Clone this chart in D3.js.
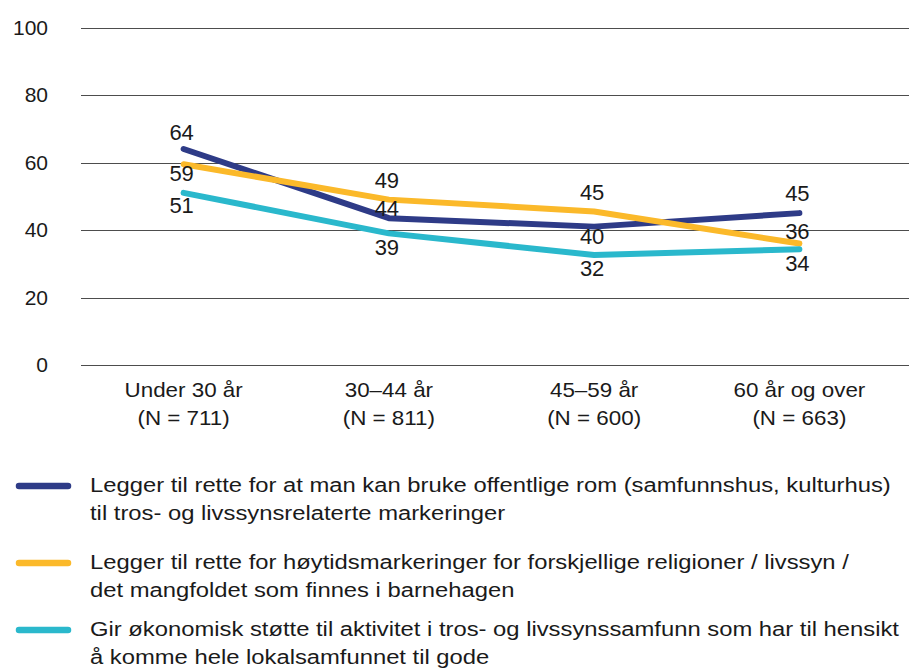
<!DOCTYPE html>
<html>
<head>
<meta charset="utf-8">
<script src="https://cdn.jsdelivr.net/npm/d3@7"></script>
<style>
	body { margin: 0; background: #fff; }
	text { font-family: "Liberation Sans", Arial, sans-serif; fill: #1a1a1a; }
</style>
</head>
<body>
<script>

// categories and sample sizes
var categories = ["Under 30 år", "30–44 år", "45–59 år", "60 år og over"];
var sampleSizes = ["(N = 711)", "(N = 811)", "(N = 600)", "(N = 663)"];

// series values (percent)
var rom = [64, 43.5, 41, 45];
var hoytid = [59.5, 49, 45.5, 36];
var okonomi = [51, 39, 32.6, 34.3];

// printed labels
var romLabels = [64, 44, 40, 45];
var hoytidLabels = [59, 49, 45, 36];
var okonomiLabels = [51, 39, 32, 34];

var yTicks = [0, 20, 40, 60, 80, 100];

var legendNames = [
	["Legger til rette for at man kan bruke offentlige rom (samfunnshus, kulturhus)", "til tros- og livssynsrelaterte markeringer"],
	["Legger til rette for høytidsmarkeringer for forskjellige religioner / livssyn /", "det mangfoldet som finnes i barnehagen"],
	["Gir økonomisk støtte til aktivitet i tros- og livssynssamfunn som har til hensikt", "å komme hele lokalsamfunnet til gode"]
];

var series = [
	{values: rom, labels: romLabels, col: "#2e3b87", dy: [-17, -10, 10, -20]},
	{values: hoytid, labels: hoytidLabels, col: "#fbb92a", dy: [9, -19, -19, -12]},
	{values: okonomi, labels: okonomiLabels, col: "#2ab8cc", dy: [12, 14, 13, 14]}
];

var width = 909, height = 670;

var svg = d3.select("body").append("svg")
	.attr("width", width)
	.attr("height", height);

var x = d3.scalePoint()
	.domain(categories)
	.range([81, 902])
	.padding(0.5);

var y = d3.scaleLinear()
	.domain([0, 100])
	.range([365, 27.5]);

// gridlines
svg.selectAll("line.grid")
	.data(yTicks)
	.enter().append("line")
		.attr("class", "grid")
		.attr("x1", 81)
		.attr("x2", 909)
		.attr("y1", function(d) { return Math.round(y(d)) + 0.5; })
		.attr("y2", function(d) { return Math.round(y(d)) + 0.5; })
		.attr("stroke", "#4d4d4d")
		.attr("stroke-width", 1);

// y tick labels
svg.selectAll("text.ytick")
	.data(yTicks)
	.enter().append("text")
		.attr("class", "ytick")
		.attr("x", 48)
		.attr("y", function(d) { return y(d); })
		.attr("dy", "0.35em")
		.attr("text-anchor", "end")
		.style("font-size", "21px")
		.text(function(d) { return d; });

// category labels (slightly wide type, like the original)
var cat = svg.selectAll("g.cat")
	.data(categories)
	.enter().append("g")
		.attr("class", "cat")
		.attr("transform", function(d) { return "translate(" + x(d) + ",0) scale(1.12,1)"; });

cat.append("text")
	.attr("y", 390)
	.attr("dy", "0.35em")
	.attr("text-anchor", "middle")
	.style("font-size", "20px")
	.text(function(d) { return d; });

cat.append("text")
	.attr("y", 418)
	.attr("dy", "0.35em")
	.attr("text-anchor", "middle")
	.style("font-size", "20px")
	.text(function(d, i) { return sampleSizes[i]; });

// lines
var line = d3.line()
	.x(function(d, i) { return x(categories[i]); })
	.y(function(d) { return y(d); });

series.forEach(function(s) {
	svg.append("path")
		.datum(s.values)
		.attr("d", line)
		.attr("fill", "none")
		.attr("stroke", s.col)
		.attr("stroke-width", 6)
		.attr("stroke-linecap", "round")
		.attr("stroke-linejoin", "round");
});

// value labels
series.forEach(function(s) {
	svg.selectAll(null)
		.data(s.values)
		.enter().append("text")
			.attr("x", function(d, i) { return x(categories[i]) - 2; })
			.attr("y", function(d, i) { return y(d) + s.dy[i]; })
			.attr("dy", "0.35em")
			.attr("text-anchor", "middle")
			.style("font-size", "22px")
			.text(function(d, i) { return s.labels[i]; });
});

// legend
var legendY = [486, 563, 630];

var leg = svg.selectAll("g.legend")
	.data(series)
	.enter().append("g")
		.attr("class", "legend")
		.attr("transform", function(d, i) { return "translate(0," + legendY[i] + ")"; });

leg.append("line")
	.attr("x1", 19)
	.attr("x2", 68)
	.attr("stroke", function(d) { return d.col; })
	.attr("stroke-width", 6.5)
	.attr("stroke-linecap", "round");

leg.each(function(d, i) {
	var t = d3.select(this).append("g")
		.attr("transform", "translate(90,0) scale(1.19,1)");
	legendNames[i].forEach(function(txt, j) {
		t.append("text")
			.attr("y", j * 28.5 - 1)
			.attr("dy", "0.35em")
			.style("font-size", "20px")
			.text(txt);
	});
});

</script>
</body>
</html>
